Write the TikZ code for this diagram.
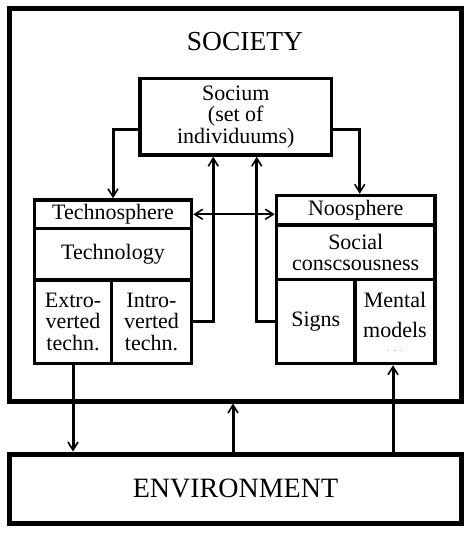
\documentclass[tikz,border=0pt]{standalone}
\usepackage{fontspec}
\setmainfont{Liberation Serif}
\usepackage{tikz}
\usetikzlibrary{arrows.meta}

\tikzset{
    cell/.style={draw, line width=3.5pt, inner sep=0pt, align=center,
        font=\fontsize{22}{21.5}\selectfont},
    frame/.style={draw, line width=5pt, inner sep=0pt},
    barb/.tip={Straight Barb[length=8pt,width=10pt,line width=1.6pt]},
    link/.style={line width=3pt, -barb},
}

\begin{document}
\begin{tikzpicture}[x=1pt, y=-1pt]
        \useasboundingbox (0, 0) rectangle (474, 535);
        \node[frame, minimum width=452, minimum height=392.5] (society) at (235.5, 204.75) {};
        \node[frame, minimum width=452, minimum height=69] (env) at (235.5, 488.5)
            {\fontsize{28}{28}\selectfont ENVIRONMENT};
        \node (societyTitle) at (245, 42) {\fontsize{27.5}{27.5}\selectfont SOCIETY};

        \node[cell, minimum width=191.5, minimum height=76.5] (socium) at (235.75, 116.75)
            {Socium\\ (set of\\ individuums)};

        % left block
        \node[cell, minimum width=157, minimum height=28.5] (techno) at (113, 214.25) {Technosphere};
        \node[cell, minimum width=157, minimum height=51.5] (technology) at (113, 254.25) {Technology};
        \node[cell, minimum width=77, minimum height=83.5] (extro) at (73, 321.75)
            {Extro-\\verted\\techn.};
        \node[cell, minimum width=80, minimum height=83.5] (intro) at (151.5, 321.75)
            {Intro-\\verted\\techn.};

        % right block
        \node[cell, minimum width=158.5, minimum height=29.5] (noo) at (355.75, 210.25) {Noosphere};
        \node[cell, minimum width=158.5, minimum height=54.5] (consc) at (355.75, 252.25)
            {Social\\[-1pt]conscsousness};
        \node[cell, minimum width=78.5, minimum height=84] (signs) at (315.75, 321.5) {Signs};
        \node[cell, minimum width=80, minimum height=84] (mental) at (395, 321.5)
            {Mental\\[9pt]models\\[-8pt]{\color{black!30}\fontsize{12}{12}\selectfont .\,\,.\,\,.}};

        \draw[link] ([yshift=-13pt]socium.west) -| (techno.north);
        \draw[link] ([yshift=-13pt]socium.east) -| ([xshift=4pt]noo.north);
        \draw[link] (intro.east) -| ([xshift=-22.5pt]socium.south);
        \draw[link] (signs.west) -| ([xshift=21pt]socium.south);
        \draw[line width=2pt, barb-barb] (techno.east) -- (techno.east -| noo.west);

        \draw[link] (extro.south) -- (extro.south |- env.north);
        \draw[link] ([xshift=-2.5pt]env.north) -- ([xshift=-2.5pt]env.north |- society.south);
        \draw[link] ([xshift=-2pt]mental.south |- env.north) -- ([xshift=-2pt]mental.south);
    \end{tikzpicture}
\end{document}
